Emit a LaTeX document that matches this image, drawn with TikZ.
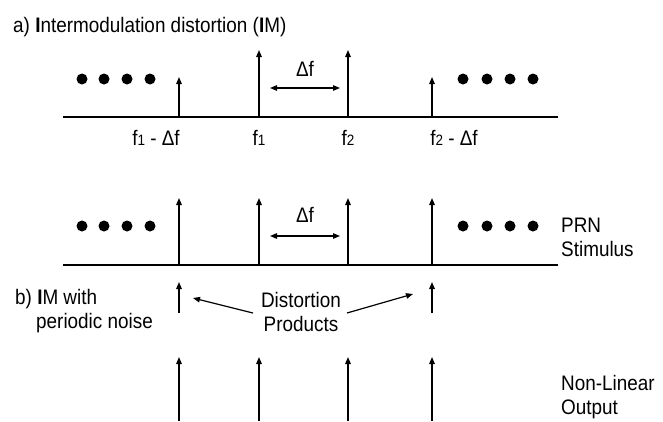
\documentclass[tikz,border=0pt]{standalone}
\usepackage{fontspec}
\setmainfont{Liberation Sans}[FakeStretch=0.9]
\usetikzlibrary{arrows.meta}
\newcommand\subdig[1]{{\fontsize{15}{15}\selectfont #1}}
\begin{document}
\begin{tikzpicture}[x=1pt,y=-1pt,
  lbl/.style={font=\fontsize{21}{24}\selectfont, inner sep=0pt},
  dotnode/.style={circle, fill=black, minimum size=11pt, inner sep=0pt},
  axisline/.style={line width=1.6pt},
  spike/.style={line width=1.4pt, -{Triangle[length=7pt,width=5.5pt]}},
  pointer/.style={line width=1.2pt, -{Triangle[length=7pt,width=5.5pt]}},
  dbl/.style={line width=1.2pt, {Triangle[length=7pt,width=5.5pt]}-{Triangle[length=7pt,width=5.5pt]}}]
\useasboundingbox (0,0) rectangle (663,421);

% ---------- a) ----------
\node[lbl, anchor=base west] (titlea) at (13,32) {a) \textbf{I}ntermodulation distortion (\textbf{I}M)};
\coordinate (aL) at (63,117);
\coordinate (aR) at (558,117);
\draw[axisline] (aL) -- (aR);

\foreach \n/\x/\t in {a1/179/77, a2/259/50, a3/348/50, a4/432/77} {
  \coordinate (\n b) at (\x,117);
  \coordinate (\n t) at (\x,\t);
  \draw[spike] (\n b) -- (\n t);
}
\foreach \n/\x in {1/82,2/104,3/127,4/150,5/463,6/487,7/510,8/533} {
  \node[dotnode] (da\n) at (\x,79) {};
}
\coordinate (dfaL) at (270,88);
\coordinate (dfaR) at (340,88);
\draw[dbl] (dfaL) -- (dfaR);
\node[lbl, anchor=base] (dfa) at (305,76) {Δf};
\node[lbl, anchor=base] (la1) at (156,145) {f\subdig{1} - Δf};
\node[lbl, anchor=base] (la2) at (259,145) {f\subdig{1}};
\node[lbl, anchor=base] (la3) at (348,145) {f\subdig{2}};
\node[lbl, anchor=base] (la4) at (454,145) {f\subdig{2} - Δf};

% ---------- b) ----------
\coordinate (bL) at (63,265);
\coordinate (bR) at (558,265);
\draw[axisline] (bL) -- (bR);
\foreach \n/\x in {b1/179, b2/259, b3/348, b4/432} {
  \coordinate (\n b) at (\x,265);
  \coordinate (\n t) at (\x,198);
  \draw[spike] (\n b) -- (\n t);
}
\foreach \n/\x in {1/82,2/104,3/127,4/150,5/463,6/487,7/510,8/533} {
  \node[dotnode] (db\n) at (\x,226) {};
}
\coordinate (dfbL) at (270,236);
\coordinate (dfbR) at (340,236);
\draw[dbl] (dfbL) -- (dfbR);
\node[lbl, anchor=base] (dfb) at (305,222) {Δf};

\node[lbl, anchor=base west] (prn) at (561,232) {PRN};
\node[lbl, anchor=base west] (stim) at (561,256) {Stimulus};

% distortion products
\foreach \n/\x in {p1/179, p2/432} {
  \coordinate (\n b) at (\x,313);
  \coordinate (\n t) at (\x,282);
  \draw[spike] (\n b) -- (\n t);
}
\node[lbl, anchor=base west] (blab1) at (15,304) {b) \textbf{I}M with};
\node[lbl, anchor=base west] (blab2) at (36,328) {periodic noise};
\node[lbl, anchor=base] (dist) at (301,307) {Distortion};
\node[lbl, anchor=base] (prod) at (301,331) {Products};
\coordinate (ptrLs) at (253,313);
\coordinate (ptrLe) at (193,298);
\coordinate (ptrRs) at (347,313);
\coordinate (ptrRe) at (413,294);
\draw[pointer] (ptrLs) -- (ptrLe);
\draw[pointer] (ptrRs) -- (ptrRe);

% non-linear output
\foreach \n/\x in {o1/179, o2/259, o3/348, o4/432} {
  \coordinate (\n b) at (\x,421);
  \coordinate (\n t) at (\x,357);
  \draw[spike] (\n b) -- (\n t);
}
\node[lbl, anchor=base west] (nl) at (561,390) {Non-Linear};
\node[lbl, anchor=base west] (out) at (561,414) {Output};
\end{tikzpicture}
\end{document}
